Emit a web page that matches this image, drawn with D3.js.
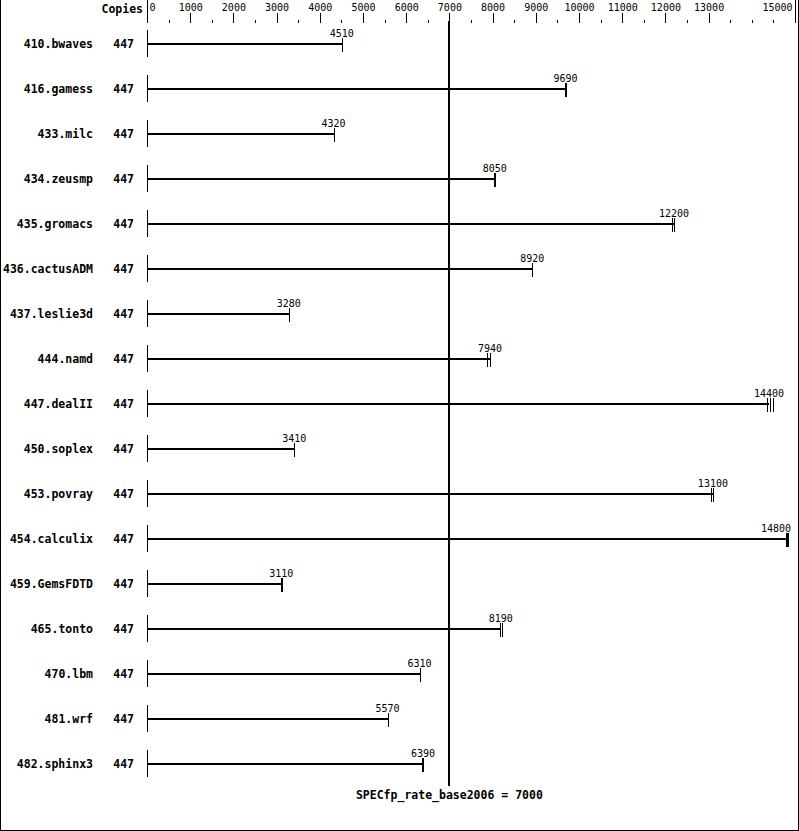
<!DOCTYPE html>
<html>
<head>
<meta charset="utf-8">
<script src="https://cdn.jsdelivr.net/npm/d3@7"></script>
<style>
  html, body { margin: 0; padding: 0; background: #fff; }
  svg { display: block; }
  text { font-family: "DejaVu Sans Mono", "Liberation Mono", monospace; fill: #000; }
</style>
</head>
<body>
<svg id="chart" width="799" height="831"></svg>
<script>
// ---- data ----
const benchmarks = ["410.bwaves","416.gamess","433.milc","434.zeusmp","435.gromacs","436.cactusADM",
  "437.leslie3d","444.namd","447.dealII","450.soplex","453.povray","454.calculix","459.GemsFDTD",
  "465.tonto","470.lbm","481.wrf","482.sphinx3"];
const copies = [447,447,447,447,447,447,447,447,447,447,447,447,447,447,447,447,447];
const ratios = [4510,9690,4320,8050,12200,8920,3280,7940,14400,3410,13100,14800,3110,8190,6310,5570,6390];
const runs = [
  [4510],
  [9680, 9700],
  [4320],
  [8040, 8060],
  [12150, 12200],
  [8920],
  [3280],
  [7880, 7940],
  [14350, 14420, 14500],
  [3410],
  [13050, 13100],
  [14800, 14820, 14840],
  [3100, 3120],
  [8160, 8210],
  [6310],
  [5570],
  [6360, 6400]
];
const labelledTicks = [0,1000,2000,3000,4000,5000,6000,7000,8000,9000,10000,11000,12000,13000,15000];
const minorTicks = [500,1500,2500,3500,4500,5500,6500,7500,8500,9500,10500,11500,12500,13500,14000,14500];
const baseline = 7000;
const baselineLabel = "SPECfp_rate_base2006 = 7000";

// ---- layout ----
const svg = d3.select("#chart");
const W = 799, H = 831;
const x = d3.scaleLinear().domain([0, 15000]).range([147, 795]);
const y = d3.scalePoint().domain(benchmarks).range([44, 764]);
const axisY = 23;

// frame (left, right, bottom)
const frame = svg.append("g").attr("shape-rendering", "crispEdges").attr("stroke", "#000");
frame.append("line").attr("x1", 0.5).attr("x2", 0.5).attr("y1", 0).attr("y2", H);
frame.append("line").attr("x1", W - 0.5).attr("x2", W - 0.5).attr("y1", 0).attr("y2", H);
frame.append("line").attr("x1", 0).attr("x2", W).attr("y1", H - 0.5).attr("y2", H - 0.5);

// header
svg.append("text").attr("x", 143).attr("y", 13).attr("text-anchor", "end")
  .attr("font-size", 11.5).attr("font-weight", "bold").text("Copies");

// top axis: labelled major ticks
const gMajor = svg.append("g").attr("transform", `translate(0,${axisY})`)
  .attr("shape-rendering", "crispEdges")
  .call(d3.axisTop(x).tickValues(labelledTicks).tickSize(10).tickPadding(2.5).tickFormat(d3.format("d")));
gMajor.select(".domain").remove();
gMajor.selectAll("text").attr("font-family", "DejaVu Sans Mono, monospace").attr("font-size", 10).attr("fill", "#000");
gMajor.selectAll(".tick line").attr("stroke", "#000");
gMajor.selectAll(".tick").filter(d => d === 0).select("text").attr("text-anchor", "start").attr("x", 2);
gMajor.selectAll(".tick").filter(d => d === 15000).select("text").attr("text-anchor", "end").attr("x", -3);
gMajor.selectAll(".tick").filter(d => d === 0 || d === 15000).select("line").attr("y2", -axisY);

// minor ticks
const gMinor = svg.append("g").attr("transform", `translate(0,${axisY})`)
  .attr("shape-rendering", "crispEdges")
  .call(d3.axisTop(x).tickValues(minorTicks).tickSize(3).tickFormat(""));
gMinor.select(".domain").remove();
gMinor.selectAll(".tick line").attr("stroke", "#000");

// rows
const rows = svg.append("g").selectAll("g.row")
  .data(benchmarks.map((b, i) => ({ name: b, copies: copies[i], ratio: ratios[i], runs: runs[i] })))
  .join("g").attr("class", "row")
  .attr("transform", d => `translate(0,${y(d.name)})`);

rows.append("text").attr("x", 93).attr("y", 4).attr("text-anchor", "end")
  .attr("font-size", 11.5).attr("font-weight", "bold").text(d => d.name);
rows.append("text").attr("x", 134).attr("y", 4).attr("text-anchor", "end")
  .attr("font-size", 11.5).attr("font-weight", "bold").text(d => d.copies);

// start tick
rows.append("line").attr("shape-rendering", "crispEdges").attr("stroke", "#000")
  .attr("x1", x(0) + 0.5).attr("x2", x(0) + 0.5).attr("y1", -14).attr("y2", 13);
// bar line
rows.append("line").attr("shape-rendering", "crispEdges").attr("stroke", "#000").attr("stroke-width", 2)
  .attr("x1", x(0)).attr("x2", d => x(d.ratio)).attr("y1", 0).attr("y2", 0);
// run marks
rows.selectAll("line.run").data(d => d.runs).join("line").attr("class", "run")
  .attr("shape-rendering", "crispEdges").attr("stroke", "#000")
  .attr("x1", v => Math.round(x(v)) + 0.5).attr("x2", v => Math.round(x(v)) + 0.5)
  .attr("y1", -6).attr("y2", 8);
// value label (kept inside the frame)
rows.append("text")
  .attr("x", d => Math.min(x(d.ratio), 791 - String(d.ratio).length * 6.02 / 2))
  .attr("y", -7.5).attr("text-anchor", "middle")
  .attr("font-size", 10).text(d => d.ratio);

// baseline reference
svg.append("line").attr("shape-rendering", "crispEdges").attr("stroke", "#000").attr("stroke-width", 2)
  .attr("x1", x(baseline)).attr("x2", x(baseline)).attr("y1", 21).attr("y2", 786);
svg.append("text").attr("x", x(baseline)).attr("y", 799).attr("text-anchor", "middle")
  .attr("font-size", 11.5).attr("font-weight", "bold").text(baselineLabel);
</script>
</body>
</html>
